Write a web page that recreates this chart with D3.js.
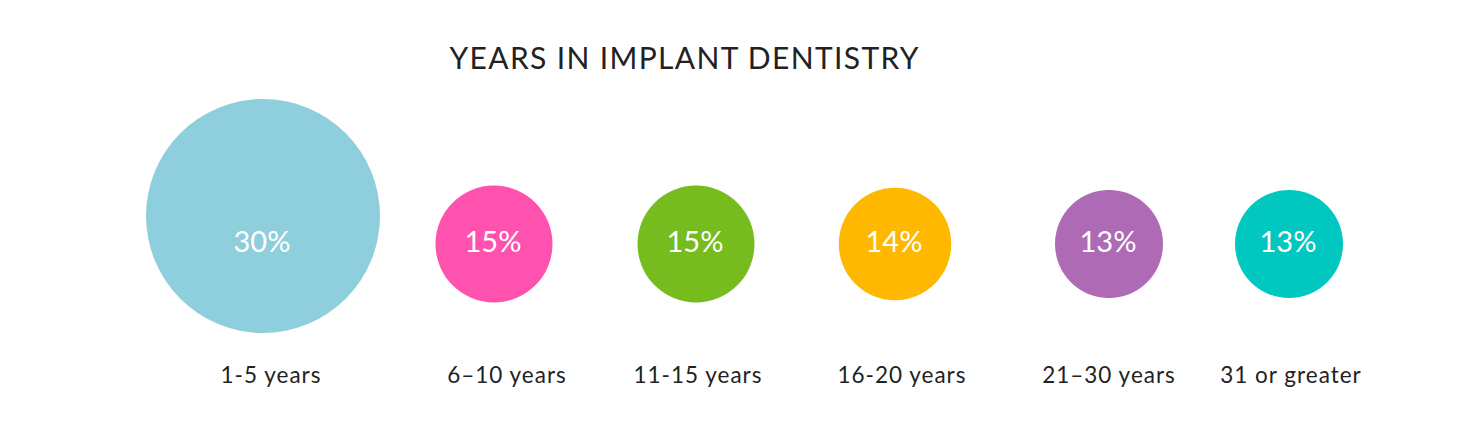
<!DOCTYPE html>
<html>
<head>
<meta charset="utf-8">
<script src="https://cdn.jsdelivr.net/npm/d3@7"></script>
<style>
  body { margin: 0; background: #fff; }
  svg { display: block; }
</style>
</head>
<body>
<script>
// data
const categories = ["1-5 years", "6\u201310 years", "11-15 years", "16-20 years", "21\u201330 years", "31 or greater"];
const percents = [30, 15, 15, 14, 13, 13];
const colors = ["#8fcedc", "#ff52ae", "#77bc1f", "#ffb800", "#ae6ab4", "#00c7c0"];

const width = 1476, height = 435;

var svg = d3.select("body").append("svg")
    .attr("width", width)
    .attr("height", height);

// column centres (layout), labels sit a touch off the circle centres
var x = d3.scaleOrdinal().domain(categories).range([263, 494, 696, 895, 1109, 1289]);
var labelX = d3.scaleOrdinal().domain(categories).range([271, 507, 698, 902, 1109, 1291]);
var color = d3.scaleOrdinal().domain(categories).range(colors);

// radius grows with share (small circles were drawn a bit bigger in the original)
var r = d3.scaleLinear().domain([13, 15, 30]).range([54, 58.5, 117]);
var cy = function(v) { return v >= 30 ? 216 : 244; };

var rows = categories.map(function(c, i) { return {cat: c, v: percents[i]}; });

// title
svg.append("text")
    .attr("x", 684)
    .attr("y", 69)
    .attr("text-anchor", "middle")
    .attr("textLength", 469)
    .attr("lengthAdjust", "spacing")
    .style("font-family", "Lato, 'Open Sans', sans-serif")
    .style("font-size", "30px")
    .style("fill", "#222")
    .text("YEARS IN IMPLANT DENTISTRY");

var g = svg.selectAll("g.item")
    .data(rows)
    .enter().append("g")
    .attr("class", "item");

g.append("circle")
    .attr("cx", function(d) { return x(d.cat); })
    .attr("cy", function(d) { return cy(d.v); })
    .attr("r", function(d) { return r(d.v); })
    .style("fill", function(d) { return color(d.cat); });

g.append("text")
    .attr("x", function(d) { return x(d.cat) - 1; })
    .attr("y", 252)
    .attr("text-anchor", "middle")
    .style("font-family", "Lato, sans-serif")
    .style("font-size", "29px")
    .style("fill", "#fff")
    .text(function(d) { return d.v + "%"; });

    // bottom category labels
g.append("text")
    .attr("x", function(d) { return labelX(d.cat); })
    .attr("y", 383)
    .attr("text-anchor", "middle")
    .style("font-family", "Lato, sans-serif")
    .style("font-size", "22.5px")
    .style("letter-spacing", "1px")
    .style("fill", "#222")
    .text(function(d) { return d.cat; });
</script>
</body>
</html>
